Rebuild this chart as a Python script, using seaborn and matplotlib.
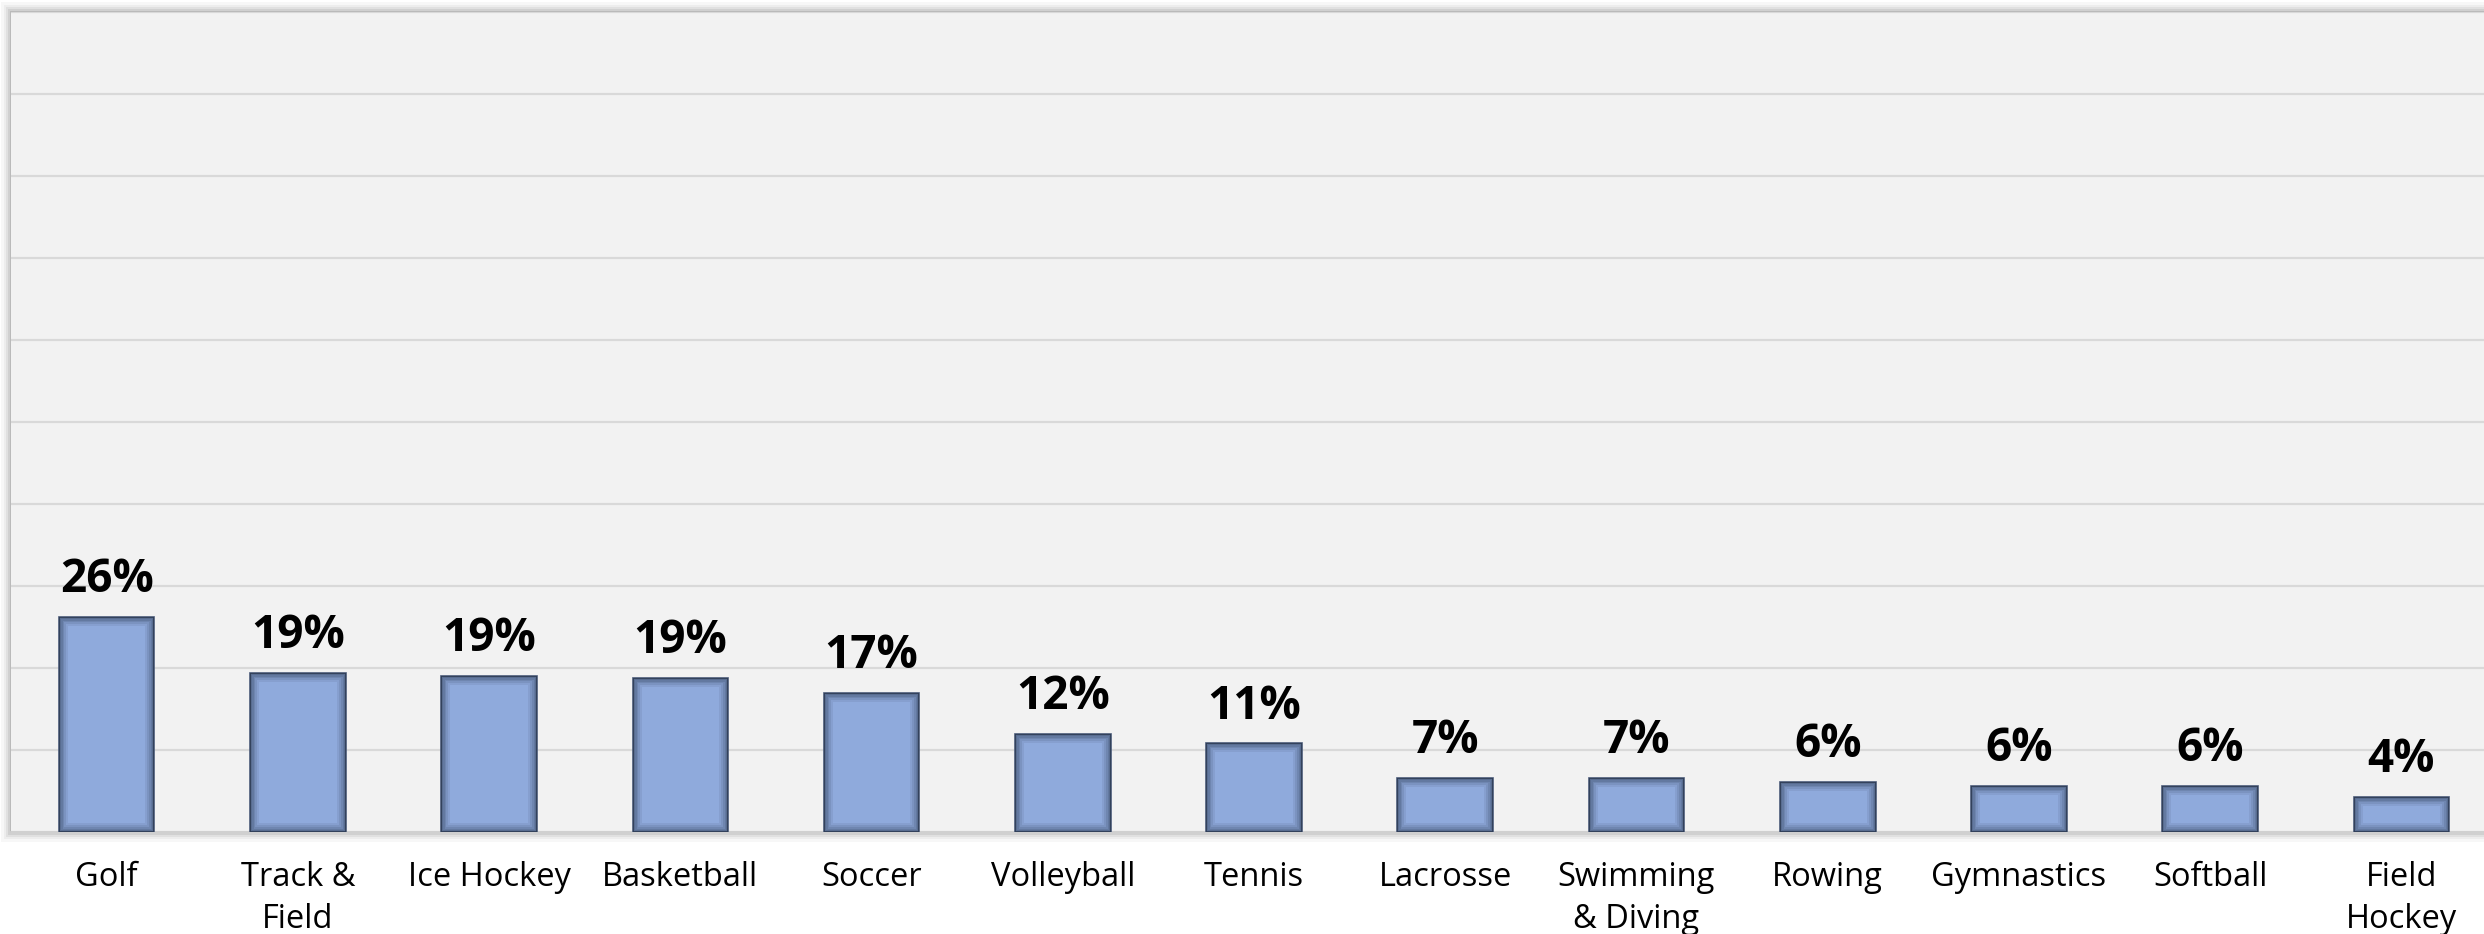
import matplotlib
matplotlib.use("Agg")
import matplotlib.pyplot as plt
import matplotlib.patches as mpatches
import pandas as pd
import seaborn as sns

# data
sports = ["Golf", "Track & Field", "Ice Hockey", "Basketball", "Soccer", "Volleyball",
          "Tennis", "Lacrosse", "Swimming & Diving", "Rowing", "Gymnastics", "Softball",
          "Field Hockey"]
tick_labels = ["Golf", "Track &\nField", "Ice Hockey", "Basketball", "Soccer", "Volleyball",
               "Tennis", "Lacrosse", "Swimming\n& Diving", "Rowing", "Gymnastics", "Softball",
               "Field\nHockey"]
share = [26.2, 19.4, 19.0, 18.8, 17.0, 12.0, 10.8, 6.6, 6.6, 6.1, 5.6, 5.6, 4.3]
y_ticks = list(range(0, 101, 10))

df = pd.DataFrame({"sport": sports, "share": share})

sns.set_theme(style="white")
plt.rcParams["font.family"] = ["Open Sans", "DejaVu Sans"]

W, H = 2484, 934
fig = plt.figure(figsize=(W / 100, H / 100), dpi=100)
fig.patch.set_facecolor("white")

# plot area in pixels
x0, x1, y0, y1 = 11, 2497, 12, 832
rect = [x0 / W, 1 - y1 / H, (x1 - x0) / W, (y1 - y0) / H]

# soft drop shadow behind the plot area
for k, a in zip([10, 7, 5, 3, 1], [0.03, 0.04, 0.05, 0.07, 0.10]):
    fig.patches.append(mpatches.Rectangle(((x0 - k) / W, 1 - (y1 + k) / H),
                                          (x1 - x0 + 2 * k) / W, (y1 - y0 + 2 * k) / H,
                                          transform=fig.transFigure, facecolor="black",
                                          edgecolor="none", alpha=a, zorder=-5))

ax = fig.add_axes(rect)
ax.set_zorder(5)
ax.set_facecolor("#F2F2F2")

sns.barplot(data=df, x="sport", y="share", color="#8FAADC", width=0.5, ax=ax,
            edgecolor="#4A5A78", linewidth=1.2, saturation=1, zorder=3)

# inner shadow on each bar
for bar in list(ax.patches):
    for w, a in zip([18, 14, 10, 7, 4, 2], [0.08, 0.10, 0.12, 0.14, 0.16, 0.2]):
        r = mpatches.Rectangle(bar.get_xy(), bar.get_width(), bar.get_height(),
                               fill=False, edgecolor="#1F2A40", linewidth=w * 0.72,
                               alpha=a, zorder=4)
        ax.add_patch(r)
        r.set_clip_path(bar)

ax.bar_label(ax.containers[0], labels=[f"{v:.0f}%" for v in share], padding=10,
             fontsize=33, fontweight="bold", color="black")

ax.set_xlim(-0.5, len(sports) - 0.5)
ax.set_ylim(0, 100)
ax.set_yticks(y_ticks)
ax.set_yticklabels([])
ax.yaxis.grid(True, color="#D9D9D9", linewidth=1.6, zorder=0)
ax.set_axisbelow(True)
ax.set_xticks(range(len(sports)))
ax.set_xticklabels(tick_labels, fontsize=23.5, linespacing=1.35)
ax.tick_params(axis="x", length=0, pad=21, colors="black")
ax.tick_params(axis="y", length=0)
ax.set_xlabel("")
ax.set_ylabel("")
for s in ["top", "right", "left"]:
    ax.spines[s].set_visible(False)
ax.spines["bottom"].set_color("#D0D0D0")
ax.spines["bottom"].set_linewidth(2)

fig.savefig("out.png", dpi=100)
